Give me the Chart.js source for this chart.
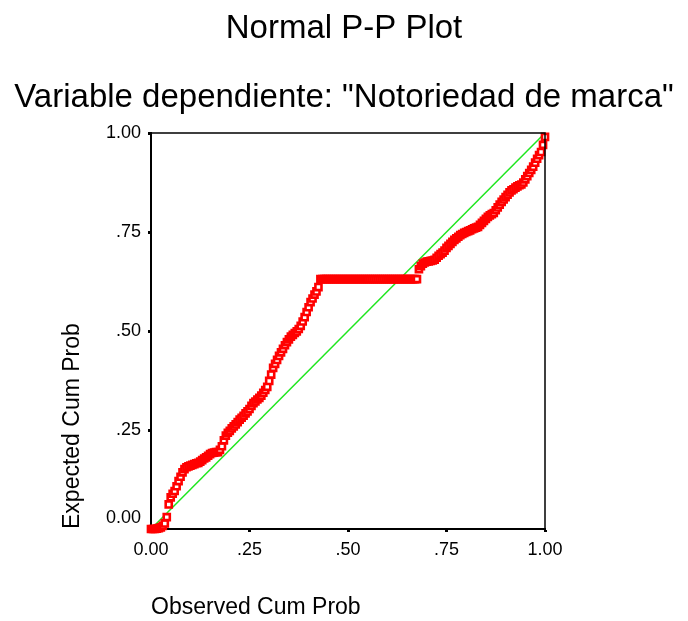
<!DOCTYPE html>
<html>
<head>
<meta charset="utf-8">
<script src="https://cdn.jsdelivr.net/npm/chart.js@4/dist/chart.umd.min.js"></script>
<style>
html,body{margin:0;padding:0;background:#fff;}
#wrap{position:relative;width:688px;height:621px;}
</style>
</head>
<body>
<div id="wrap"><canvas id="c"></canvas></div>
<script>
// Observed cumulative probability (x)
const observedCumProb = [
  0.000,0.005,0.010,0.015,0.020,0.025,0.030,0.035,0.040,0.045,
  0.050,0.055,0.060,0.065,0.070,0.075,0.080,0.085,0.090,0.095,
  0.100,0.105,0.110,0.115,0.120,0.125,0.130,0.135,0.140,0.145,
  0.150,0.155,0.160,0.165,0.170,0.175,0.180,0.185,0.190,0.195,
  0.200,0.205,0.210,0.215,0.220,0.225,0.230,0.235,0.240,0.245,
  0.250,0.255,0.260,0.265,0.270,0.275,0.280,0.285,0.290,0.295,
  0.300,0.305,0.310,0.315,0.320,0.325,0.330,0.335,0.340,0.345,
  0.350,0.355,0.360,0.365,0.370,0.375,0.380,0.385,0.390,0.395,
  0.400,0.405,0.410,0.415,0.420,0.425,0.430,0.435,0.440,0.445,
  0.450,0.455,0.460,0.465,0.470,0.475,0.480,0.485,0.490,0.495,
  0.500,0.505,0.510,0.515,0.520,0.525,0.530,0.535,0.540,0.545,
  0.550,0.555,0.560,0.565,0.570,0.575,0.580,0.585,0.590,0.595,
  0.600,0.605,0.610,0.615,0.620,0.625,0.630,0.635,0.640,0.645,
  0.650,0.655,0.660,0.665,0.670,0.675,0.680,0.685,0.690,0.695,
  0.700,0.705,0.710,0.715,0.720,0.725,0.730,0.735,0.740,0.745,
  0.750,0.755,0.760,0.765,0.770,0.775,0.780,0.785,0.790,0.795,
  0.800,0.805,0.810,0.815,0.820,0.825,0.830,0.835,0.840,0.845,
  0.850,0.855,0.860,0.865,0.870,0.875,0.880,0.885,0.890,0.895,
  0.900,0.905,0.910,0.915,0.920,0.925,0.930,0.935,0.940,0.945,
  0.950,0.955,0.960,0.965,0.970,0.975,0.980,0.985,0.990,0.995,
  1.000
];
// Expected cumulative probability (y)
const expectedCumProb = [
  0.000,0.000,0.000,0.001,0.002,0.004,0.008,0.014,0.030,0.062,
  0.080,0.089,0.096,0.108,0.121,0.132,0.143,0.151,0.156,0.158,
  0.160,0.162,0.164,0.166,0.167,0.170,0.174,0.178,0.181,0.185,
  0.189,0.192,0.193,0.194,0.194,0.200,0.209,0.224,0.236,0.243,
  0.248,0.254,0.259,0.264,0.270,0.276,0.281,0.286,0.292,0.297,
  0.303,0.311,0.318,0.322,0.327,0.331,0.337,0.344,0.351,0.359,
  0.374,0.390,0.407,0.417,0.427,0.437,0.446,0.455,0.464,0.472,
  0.479,0.486,0.490,0.495,0.499,0.505,0.513,0.524,0.535,0.548,
  0.560,0.573,0.582,0.592,0.600,0.611,0.631,0.631,0.631,0.631,
  0.631,0.631,0.631,0.631,0.631,0.631,0.631,0.631,0.631,0.631,
  0.631,0.631,0.631,0.631,0.631,0.631,0.631,0.631,0.631,0.631,
  0.631,0.631,0.631,0.631,0.631,0.631,0.631,0.631,0.631,0.631,
  0.631,0.631,0.631,0.631,0.631,0.631,0.631,0.631,0.631,0.631,
  0.631,0.631,0.631,0.631,0.631,0.631,0.656,0.664,0.670,0.673,
  0.675,0.676,0.677,0.678,0.680,0.685,0.690,0.694,0.698,0.703,
  0.710,0.715,0.720,0.725,0.730,0.734,0.738,0.742,0.745,0.748,
  0.750,0.752,0.754,0.757,0.759,0.761,0.763,0.768,0.773,0.778,
  0.783,0.788,0.792,0.795,0.798,0.805,0.812,0.819,0.826,0.832,
  0.838,0.844,0.850,0.855,0.858,0.862,0.865,0.868,0.870,0.875,
  0.883,0.891,0.899,0.907,0.915,0.925,0.935,0.944,0.952,0.970,
  0.990
];
// Reference (diagonal) line endpoints
const diagonalX = [0, 1];
const diagonalY = [0, 1];
// Tick values and labels
const tickValues = [0, 0.25, 0.5, 0.75, 1];
const tickLabels = ['0.00', '.25', '.50', '.75', '1.00'];

const FONT = "'Liberation Sans', Arial, Helvetica, sans-serif";

const points = observedCumProb.map((x, i) => ({x: x, y: expectedCumProb[i]}));
const diag = diagonalX.map((x, i) => ({x: x, y: diagonalY[i]}));

function labelFor(v, axis) {
  const idx = tickValues.findIndex(t => Math.abs(t - v) < 1e-9);
  if (idx < 0) return '';
  const s = tickLabels[idx];
  if (axis === 'y' && idx === 0) return [s, ''];
  return s;
}

const framePlugin = {
  id: 'frame',
  afterDatasetsDraw(chart) {
    const {ctx, chartArea: a} = chart;
    ctx.save();
    ctx.strokeStyle = '#000';
    ctx.lineWidth = 1.5;
    ctx.beginPath();
    ctx.moveTo(a.left, a.top);
    ctx.lineTo(a.right, a.top);
    ctx.lineTo(a.right, a.bottom);
    ctx.stroke();
    ctx.restore();
  }
};

new Chart(document.getElementById('c'), {
  type: 'scatter',
  data: {
    datasets: [
      {
        label: 'Observed',
        data: points,
        showLine: false,
        pointStyle: 'rect',
        pointRadius: 4.3,
        pointHoverRadius: 4.3,
        pointBorderWidth: 2.6,
        borderColor: '#ff0000',
        backgroundColor: '#ffffff',
        clip: false,
        order: 0
      },
      {
        label: 'Diagonal',
        type: 'line',
        data: diag,
        borderColor: '#1ee61e',
        borderWidth: 1.5,
        pointRadius: 0,
        fill: false,
        order: 1
      }
    ]
  },
  options: {
    responsive: true,
    maintainAspectRatio: false,
    animation: false,
    events: [],
    layout: { padding: { left: 0, right: 0, top: 0, bottom: 0 } },
    plugins: {
      legend: { display: false },
      tooltip: { enabled: false },
      title: {
        display: true,
        text: 'Normal P-P Plot',
        color: '#000',
        font: { family: FONT, size: 33, weight: 'normal', lineHeight: 1.2 },
        padding: { top: 9, bottom: 0 }
      },
      subtitle: {
        display: true,
        text: 'Variable dependiente: "Notoriedad de marca"',
        color: '#000',
        font: { family: FONT, size: 33, weight: 'normal', lineHeight: 1.2 },
        padding: { top: 29.6, bottom: 15.2 }
      }
    },
    scales: {
      x: {
        type: 'linear',
        position: 'bottom',
        min: 0, max: 1,
        afterBuildTicks(scale) { scale.ticks = tickValues.map(v => ({value: v})); },
        afterFit(scale) { scale.height = 92; },
        ticks: {
          color: '#000',
          font: { family: FONT, size: 18 },
          padding: 7,
          maxRotation: 0,
          callback: (v) => labelFor(v, 'x')
        },
        grid: {
          drawOnChartArea: false,
          drawTicks: true,
          tickLength: 3,
          tickWidth: 3,
          tickColor: '#000'
        },
        border: { display: true, color: '#000', width: 2 },
        title: {
          display: true,
          text: 'Observed Cum Prob',
          align: 'start',
          color: '#000',
          font: { family: FONT, size: 23, weight: 'normal', lineHeight: 1.2 },
          padding: { top: 0, bottom: 0 }
        }
      },
      y: {
        type: 'linear',
        position: 'left',
        min: 0, max: 1,
        afterBuildTicks(scale) { scale.ticks = tickValues.map(v => ({value: v})); },
        afterFit(scale) { scale.width = 151; },
        ticks: {
          color: '#000',
          font: { family: FONT, size: 18 },
          padding: 7,
          callback: (v) => labelFor(v, 'y')
        },
        grid: {
          drawOnChartArea: false,
          drawTicks: true,
          tickLength: 3,
          tickWidth: 3,
          tickColor: '#000'
        },
        border: { display: true, color: '#000', width: 2 },
        title: {
          display: true,
          text: 'Expected Cum Prob',
          align: 'start',
          color: '#000',
          font: { family: FONT, size: 23, weight: 'normal', lineHeight: 1.2 },
          padding: { top: 59, bottom: 0 }
        }
      },
      yRight: {
        type: 'linear',
        position: 'right',
        min: 0, max: 1,
        afterFit(scale) { scale.width = 143; },
        ticks: { display: false },
        grid: { display: false },
        border: { display: false }
      }
    }
  },
  plugins: [framePlugin]
});
</script>
</body>
</html>
